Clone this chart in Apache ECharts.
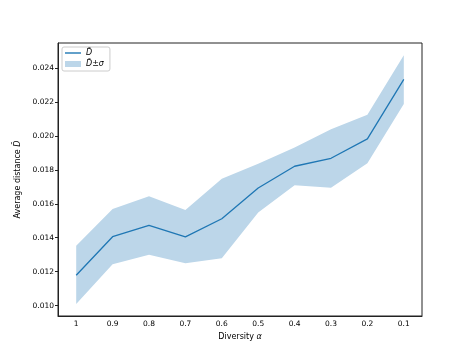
<!DOCTYPE html>
<html>
<head>
<meta charset="utf-8">
<script src="https://cdn.jsdelivr.net/npm/echarts@6/dist/echarts.min.js"></script>
<style>
  html, body { margin: 0; padding: 0; background: #fff; }
  #main { width: 469px; height: 356px; }
</style>
</head>
<body>
<div id="main"></div>
<script>
// diversity alpha
var categories = ['1', '0.9', '0.8', '0.7', '0.6', '0.5', '0.4', '0.3', '0.2', '0.1'];
var meanD = [0.01179, 0.01406, 0.01473, 0.01405, 0.01512, 0.01693, 0.01821, 0.01868, 0.01982, 0.02333];
var upperD = [0.01353, 0.01569, 0.01644, 0.01564, 0.01748, 0.01836, 0.01931, 0.02039, 0.02125, 0.02475];
var lowerD = [0.01010, 0.01244, 0.01300, 0.01250, 0.01279, 0.01548, 0.01709, 0.01695, 0.01839, 0.02188];
var yTicks = [0.010, 0.012, 0.014, 0.016, 0.018, 0.020, 0.022, 0.024];

var font = 'DejaVu Sans';
var bandWidth = upperD.map(function (v, i) { return v - lowerD[i]; });

var chart = echarts.init(document.getElementById('main'), null, { renderer: 'canvas' });

chart.setOption({
  animation: false,
  grid: {
    left: 58,
    right: 47,
    top: 43,
    bottom: 40,
    show: true,
    borderColor: '#222',
    borderWidth: 1,
    backgroundColor: 'transparent'
  },
  legend: {
    left: 62,
    top: 47,
    orient: 'vertical',
    padding: [2, 6, 3, 3],
    itemGap: 3,
    itemWidth: 16,
    itemHeight: 6,
    borderColor: '#ccc',
    borderWidth: 1,
    borderRadius: 2,
    backgroundColor: 'rgba(255,255,255,0.8)',
    textStyle: { fontFamily: font, fontSize: 8, fontStyle: 'italic', color: '#000', lineHeight: 8 },
    data: [
      { name: 'D\u0302', icon: 'path://M0,0h16v1.4h-16z' },
      { name: 'D\u0302\u00b1\u03c3', icon: 'rect' }
    ]
  },
  xAxis: {
    type: 'category',
    data: categories,
    boundaryGap: true,
    name: '{n|Diversity }{i|\u03b1}',
    nameLocation: 'middle',
    nameGap: 14,
    nameTextStyle: {
      rich: {
        n: { fontFamily: font, fontSize: 8, fontStyle: 'normal', color: '#000' },
        i: { fontFamily: font, fontSize: 8, fontStyle: 'italic', color: '#000' }
      }
    },
    axisLine: { lineStyle: { color: '#222', width: 1 } },
    axisTick: { alignWithLabel: true, length: 3, lineStyle: { color: '#222' } },
    axisLabel: { fontFamily: font, fontSize: 7.5, color: '#000', margin: 4 },
    splitLine: { show: false }
  },
  yAxis: {
    type: 'value',
    min: 0.00939,
    max: 0.02547,
    name: '{n|Average distance }{i|D\u0302}',
    nameLocation: 'middle',
    nameGap: 32,
    nameTextStyle: {
      rich: {
        n: { fontFamily: font, fontSize: 8, fontStyle: 'normal', color: '#000' },
        i: { fontFamily: font, fontSize: 8, fontStyle: 'italic', color: '#000' }
      }
    },
    axisLine: { show: true, lineStyle: { color: '#222', width: 1 } },
    axisTick: { show: true, length: 3, customValues: yTicks, lineStyle: { color: '#222' } },
    axisLabel: {
      fontFamily: font, fontSize: 7.5, color: '#000', margin: 4,
      customValues: yTicks,
      formatter: function (v) { return v.toFixed(3); }
    },
    splitLine: { show: false }
  },
  series: [
    {
      // invisible base of the band
      name: 'lower',
      type: 'line',
      stack: 'band',
      data: lowerD,
      symbol: 'none',
      lineStyle: { opacity: 0 },
      silent: true,
      z: 1
    },
    {
      name: 'D\u0302\u00b1\u03c3',
      type: 'line',
      stack: 'band',
      data: bandWidth,
      symbol: 'none',
      itemStyle: { color: '#bcd6e9' },
      lineStyle: { opacity: 0 },
      areaStyle: { color: '#bcd6e9', opacity: 1 },
      silent: true,
      z: 2
    },
    {
      name: 'D\u0302',
      type: 'line',
      data: meanD,
      symbol: 'none',
      smooth: false,
      itemStyle: { color: '#1f77b4' },
      lineStyle: { color: '#1f77b4', width: 1.3 },
      z: 3
    }
  ]
});
</script>
</body>
</html>
